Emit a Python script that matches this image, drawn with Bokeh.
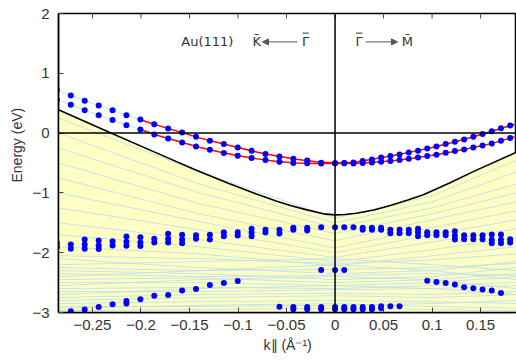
from bokeh.plotting import figure
from bokeh.models import Span, Label, FixedTicker, Title, Arrow, NormalHead
from bokeh.embed import file_html
from bokeh.resources import INLINE

FONT = "Liberation Sans"
ANN_FONT = "DejaVu Sans"

# ---------------- data ----------------
# surface-state dots, K direction (negative k) and M direction (positive k)
k_left = [-0.2866, -0.2723, -0.258, -0.2436, -0.2293, -0.215, -0.2006, -0.1863, -0.172, -0.1576,
          -0.1433, -0.129, -0.1146, -0.1003, -0.086, -0.0717, -0.0573, -0.043, -0.0287, -0.0143, 0.0]
ss_upper_left = [0.717, 0.627, 0.543, 0.46, 0.383, 0.30, 0.227, 0.15, 0.077, 0.01,
                 -0.062, -0.128, -0.183, -0.24, -0.295, -0.35, -0.39, -0.43, -0.46, -0.495, -0.505]
ss_lower_left = [0.56, 0.472, 0.383, 0.30, 0.217, 0.133, 0.06, -0.023, -0.09, -0.157,
                 -0.223, -0.278, -0.333, -0.378, -0.417, -0.45, -0.478, -0.5, -0.505, -0.51, -0.505]
k_right = [0.0095, 0.019, 0.0285, 0.038, 0.0475, 0.057, 0.0665, 0.076, 0.0855, 0.095,
           0.1045, 0.114, 0.1235, 0.133, 0.1425, 0.152, 0.1615, 0.171, 0.1805]
ss_upper_right = [-0.5, -0.49, -0.467, -0.44, -0.41, -0.383, -0.357, -0.323, -0.295, -0.257,
                  -0.223, -0.183, -0.145, -0.107, -0.062, -0.017, 0.033, 0.083, 0.127]
ss_lower_right = [-0.505, -0.51, -0.5, -0.49, -0.478, -0.467, -0.45, -0.428, -0.407, -0.383,
                  -0.362, -0.328, -0.3, -0.273, -0.24, -0.207, -0.173, -0.128, -0.083]

# red fitted curves
fit_k = [-0.2, -0.18, -0.16, -0.14, -0.12, -0.10, -0.08, -0.06, -0.04, -0.02, 0.0,
         0.02, 0.04, 0.06, 0.08, 0.10, 0.12, 0.14, 0.16, 0.18, 0.187]
fit_upper = [0.22, 0.117, 0.02, -0.08, -0.163, -0.24, -0.32, -0.382, -0.436, -0.481, -0.5,
             -0.488, -0.434, -0.375, -0.31, -0.24, -0.16, -0.075, 0.023, 0.122, 0.155]
fit_lower = [0.057, -0.052, -0.146, -0.236, -0.313, -0.378, -0.431, -0.473, -0.5, -0.51, -0.505,
             -0.51, -0.488, -0.462, -0.42, -0.372, -0.317, -0.25, -0.18, -0.088, -0.055]

# projected bulk band edge
edge_k = [-0.285, -0.231, -0.18, -0.1435, -0.11, -0.081, -0.06, -0.046, -0.03, -0.012, 0.0,
          0.01, 0.022, 0.04, 0.057, 0.075, 0.091, 0.1186, 0.143, 0.187]
edge_E = [0.39, 0.0, -0.36, -0.617, -0.84, -1.02, -1.14, -1.21, -1.28, -1.35, -1.367,
          -1.36, -1.34, -1.285, -1.21, -1.12, -1.03, -0.83, -0.64, -0.32]

# bulk bands (light blue), energies at these k
band_k = [-0.285, -0.14, 0.0, 0.1, 0.187]
band_E = [
    [0.25, -0.65, -1.42, -1.05, -0.45],
    [0.0, -0.85, -1.5, -1.15, -0.65],
    [-0.25, -1.0, -1.58, -1.25, -0.85],
    [-0.5, -1.18, -1.68, -1.35, -1.0],
    [-0.75, -1.35, -1.8, -1.45, -1.15],
    [-1.0, -1.48, -1.92, -1.58, -1.3],
    [-1.25, -1.62, -2.0, -1.7, -1.45],
    [-1.5, -1.78, -2.08, -1.82, -1.6],
    [-1.7, -1.9, -2.15, -1.95, -1.75],
    [-1.9, -2.02, -2.22, -2.05, -1.9],
    [-2.05, -2.1, -2.18, -2.12, -2.02],
    [-2.1, -2.25, -2.35, -2.3, -2.15],
    [-2.2, -2.15, -2.1, -2.2, -2.3],
    [-2.25, -2.3, -2.28, -2.25, -2.18],
    [-2.3, -2.35, -2.45, -2.4, -2.25],
    [-2.35, -2.4, -2.38, -2.35, -2.38],
    [-2.4, -2.3, -2.2, -2.3, -2.45],
    [-2.45, -2.42, -2.5, -2.45, -2.35],
    [-2.5, -2.5, -2.55, -2.5, -2.4],
    [-2.55, -2.45, -2.4, -2.45, -2.6],
    [-2.6, -2.58, -2.6, -2.55, -2.5],
    [-2.65, -2.65, -2.62, -2.6, -2.55],
    [-2.7, -2.6, -2.55, -2.6, -2.7],
    [-2.75, -2.7, -2.68, -2.7, -2.65],
    [-2.8, -2.75, -2.72, -2.75, -2.7],
    [-2.85, -2.82, -2.8, -2.82, -2.85],
    [-2.9, -2.9, -2.88, -2.85, -2.8],
    [-2.93, -2.88, -2.85, -2.9, -2.93],
    [-2.97, -2.95, -2.93, -2.95, -2.97],
]

# bulk-state dots
bulk_k = [-0.2866, -0.2866, -0.2723, -0.2723, -0.258, -0.258, -0.258, -0.2436, -0.2436, -0.2436,
          -0.2293, -0.2293, -0.215, -0.215, -0.215, -0.2006, -0.2006, -0.2006, -0.1863, -0.1863,
          -0.172, -0.172, -0.172, -0.1576, -0.1576, -0.1576, -0.1433, -0.1433, -0.129, -0.129,
          -0.1146, -0.1146, -0.1003, -0.1003, -0.086, -0.086, -0.086, -0.0717, -0.0717,
          -0.0573, -0.0573, -0.043, -0.043, -0.0287, -0.0287, -0.0143, 0.0,
          0.0095, 0.019, 0.0285, 0.0285, 0.038, 0.038, 0.0475, 0.0475,
          0.057, 0.057, 0.0665, 0.0665, 0.076, 0.076, 0.0855, 0.0855, 0.0855,
          0.095, 0.095, 0.1045, 0.1045, 0.114, 0.114, 0.1235, 0.1235, 0.1235,
          0.133, 0.133, 0.1425, 0.1425, 0.152, 0.152, 0.1615, 0.1615, 0.1615,
          0.171, 0.171, 0.171, 0.1805, 0.1805,
          # lower branches
          -0.2723, -0.258, -0.2436, -0.2293, -0.215, -0.215, -0.2006, -0.1863, -0.172, -0.1576,
          -0.1433, -0.129, -0.1146, -0.1003,
          -0.0143, 0.0, 0.0095,
          -0.0573, -0.043, -0.043, -0.0287, -0.0287, -0.0143, -0.0143, 0.0, 0.0,
          0.0095, 0.0095, 0.019, 0.019, 0.0285, 0.0285, 0.038, 0.038, 0.0475, 0.0475, 0.057, 0.0665,
          0.095, 0.1045, 0.114, 0.1235, 0.133, 0.1425, 0.152, 0.1615, 0.171]
bulk_E = [-1.84, -1.907, -1.862, -1.933, -1.778, -1.862, -1.933, -1.795, -1.878, -1.94,
          -1.807, -1.878, -1.728, -1.817, -1.883, -1.74, -1.828, -1.89, -1.767, -1.828,
          -1.683, -1.767, -1.828, -1.7, -1.778, -1.84, -1.707, -1.767, -1.7, -1.778,
          -1.657, -1.723, -1.657, -1.712, -1.6, -1.662, -1.723, -1.617, -1.662,
          -1.617, -1.678, -1.583, -1.617, -1.583, -1.63, -1.573, -1.573,
          -1.573, -1.573, -1.583, -1.617, -1.583, -1.617, -1.583, -1.617,
          -1.617, -1.673, -1.617, -1.673, -1.617, -1.673, -1.6, -1.657, -1.723,
          -1.657, -1.707, -1.657, -1.707, -1.657, -1.707, -1.64, -1.717, -1.778,
          -1.707, -1.773, -1.707, -1.773, -1.707, -1.773, -1.695, -1.783, -1.84,
          -1.695, -1.783, -1.84, -1.773, -1.828,
          -2.978, -2.95, -2.91, -2.86, -2.807, -2.85, -2.78, -2.72, -2.707, -2.633,
          -2.607, -2.54, -2.507, -2.473,
          -2.29, -2.29, -2.29,
          -2.905, -2.91, -2.945, -2.91, -2.945, -2.91, -2.945, -2.91, -2.945,
          -2.91, -2.945, -2.91, -2.945, -2.91, -2.945, -2.91, -2.945, -2.895, -2.93, -2.895, -2.895,
          -2.467, -2.49, -2.507, -2.533, -2.578, -2.595, -2.617, -2.633, -2.673]

x_ticks = [-0.25, -0.2, -0.15, -0.1, -0.05, 0, 0.05, 0.1, 0.15]
x_tick_labels = ["\u22120.25", "\u22120.2", "\u22120.15", "\u22120.1", "\u22120.05", "0", "0.05", "0.1", "0.15"]
y_ticks = [-3, -2, -1, 0, 1, 2]
y_tick_labels = ["\u22123", "\u22122", "\u22121", "0", "1", "2"]

# direction annotation: symbol texts and their k positions
sym_text = ["Au(111)", "K\u0304", "\u0393", "\u0393", "M\u0304"]
sym_k = [-0.1316, -0.0807, -0.0303, 0.0248, 0.0746]
gamma_k = [-0.0303, 0.0248]          # symbols that carry an overbar drawn separately
arrow_from = [-0.0388, 0.0316]
arrow_to = [-0.0748, 0.0643]

# ---------------- figure ----------------
p = figure(width=516, height=361, x_range=(-0.285, 0.187), y_range=(-3, 2),
           output_backend="svg", toolbar_location=None,
           min_border_left=58, min_border_right=0, min_border_top=13, min_border_bottom=49)
p.xgrid.visible = False
p.ygrid.visible = False
p.outline_line_color = "black"
p.outline_line_width = 1.5
p.background_fill_color = "white"

for ax, ticks, labels in ((p.xaxis[0], x_ticks, x_tick_labels), (p.yaxis[0], y_ticks, y_tick_labels)):
    ax.ticker = FixedTicker(ticks=ticks)
    ax.major_label_overrides = {t: l for t, l in zip(ticks, labels)}
    ax.major_tick_in = 5
    ax.major_tick_out = 0
    ax.minor_tick_in = 0
    ax.minor_tick_out = 0
    ax.axis_line_color = "black"
    ax.axis_line_width = 1.5
    ax.major_tick_line_color = "#444444"
    ax.major_label_text_font = FONT
    ax.major_label_text_font_size = "15px"
    ax.major_label_text_color = "#333333"
p.xaxis.major_label_standoff = 7
p.yaxis.major_label_standoff = 9

# axis titles as side titles (allow offsetting along the axis)
p.add_layout(Title(text="Energy (eV)", align="left", offset=130, standoff=10,
                   text_font=FONT, text_font_size="14px", text_font_style="normal",
                   text_color="#333333"), "left")
p.add_layout(Title(text="k\u2225 (\u00c5\u207b\u00b9)", align="left", offset=205, standoff=4,
                   text_font=FONT, text_font_size="14px", text_font_style="normal",
                   text_color="#333333"), "below")

# yellow bulk projection
p.varea(x=edge_k, y1=[-3] * len(edge_k), y2=edge_E, fill_color="#FFFFC4")

# bulk bands
for Es in band_E:
    p.line(band_k, Es, line_color="#BFE0EC", line_width=0.9)

# surface bands (light blue)
for Es in (ss_upper_left + ss_upper_right, ss_lower_left + ss_lower_right):
    p.line(k_left + k_right, Es, line_color="#BFE0EC", line_width=1.0)

p.line(edge_k, edge_E, line_color="black", line_width=1.6)
p.add_layout(Span(location=0, dimension="width", line_color="black", line_width=1.5))
p.add_layout(Span(location=0, dimension="height", line_color="black", line_width=1.5))

# ticks on the top edge (mirrored)
p.segment(x0=x_ticks, y0=[2] * len(x_ticks), x1=x_ticks, y1=[2 - 5 / 60] * len(x_ticks),
          line_color="#444444", line_width=1)

p.line(fit_k, fit_upper, line_color="#FF0000", line_width=1.5)
p.line(fit_k, fit_lower, line_color="#FF0000", line_width=1.5)

p.scatter(k_left + k_right, ss_upper_left + ss_upper_right, size=6, fill_color="#0000FF", line_color=None)
p.scatter(k_left + k_right, ss_lower_left + ss_lower_right, size=6, fill_color="#0000FF", line_color=None)
p.scatter(bulk_k, bulk_E, size=6, fill_color="#0000FF", line_color=None)

# annotations
for x, txt in zip(sym_k, sym_text):
    p.add_layout(Label(x=x, y=1.54, text=txt, text_align="center", text_baseline="middle",
                       text_font=ANN_FONT, text_font_size="13px", text_color="#333333"))
# overbars on Gamma
p.segment(x0=[g - 0.0033 for g in gamma_k], x1=[g + 0.0033 for g in gamma_k],
          y0=[1.672] * len(gamma_k), y1=[1.672] * len(gamma_k), line_color="#333333", line_width=1)
for a, b in zip(arrow_from, arrow_to):
    p.add_layout(Arrow(x_start=a, y_start=1.525, x_end=b, y_end=1.525, line_color="#555555", line_width=1,
                       end=NormalHead(size=6, fill_color="#555555", line_color="#555555")))

open("out.html", "w").write(file_html(p, INLINE))
